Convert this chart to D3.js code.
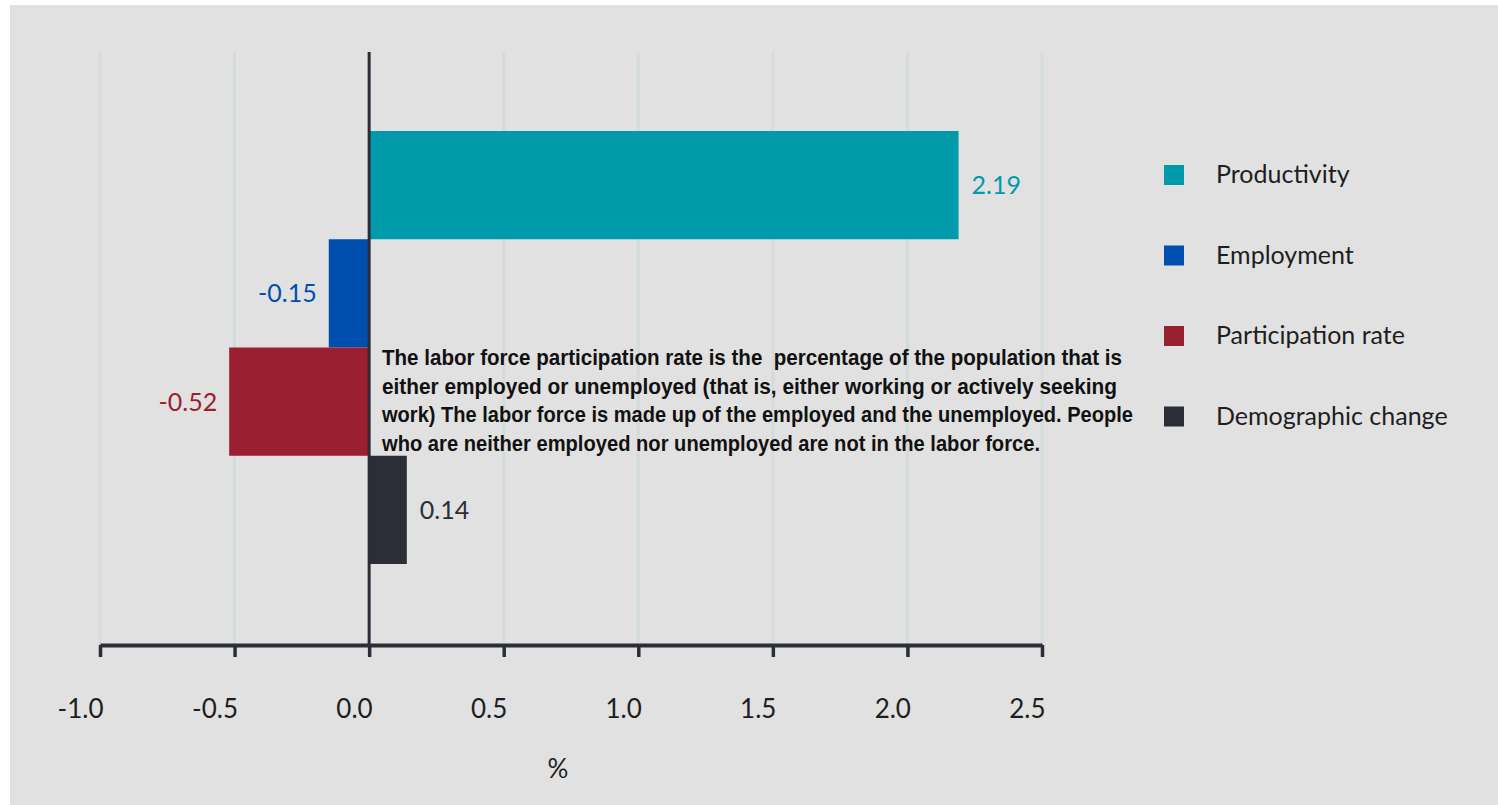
<!DOCTYPE html>
<html>
<head>
<meta charset="utf-8">
<script src="https://cdn.jsdelivr.net/npm/d3@7"></script>
<style>
  html, body { margin: 0; padding: 0; background: #ffffff; }
  svg { display: block; }
</style>
</head>
<body>
<div class="chart"></div>
<script>
// contributions to growth, in %
var categories = ["Productivity", "Employment", "Participation rate", "Demographic change"];
var values = [2.19, -0.15, -0.52, 0.14];
var valueLabels = ["2.19", "-0.15", "-0.52", "0.14"];
var colors = ["#009aab", "#004fae", "#9a1f30", "#2b2e36"];
var tickValues = [-1.0, -0.5, 0.0, 0.5, 1.0, 1.5, 2.0, 2.5];
var noteLines = [
  "The labor force participation rate is the  percentage of the population that is",
  "either employed or unemployed (that is, either working or actively seeking",
  "work) The labor force is made up of the employed and the unemployed. People",
  "who are neither employed nor unemployed are not in the labor force."
];
var noteWidths = [740, 735, 751, 658];

var width = 1498,
    height = 805;

var dark = "#2b2e36",
    gridColor = "#d4dbdb",
    font = "Lato, 'Open Sans', sans-serif";

var svg = d3.select(".chart").append("svg")
    .attr("width", width)
    .attr("height", height);

svg.append("rect")
    .attr("x", 10).attr("y", 5)
    .attr("width", width - 10).attr("height", height - 5)
    .attr("fill", "#e1e1e1");

var xScale = d3.scaleLinear().domain([-1, 2.5]).range([100, 1042]);
var yScale = d3.scaleBand().domain(categories).range([131, 564]).padding(0);

var axisY = 645,
    gridTop = 52;

// gridlines
svg.selectAll(".grid")
    .data(tickValues.filter(function(d) { return d !== 0; }))
    .enter()
    .append("line")
    .attr("class", "grid")
    .attr("x1", function(d) { return xScale(d); })
    .attr("x2", function(d) { return xScale(d); })
    .attr("y1", gridTop)
    .attr("y2", axisY)
    .attr("stroke", gridColor)
    .attr("stroke-width", 3);

// bars
var rows = categories.map(function(c, i) {
  return { name: c, value: values[i], label: valueLabels[i], color: colors[i] };
});

svg.selectAll(".bar")
    .data(rows)
    .enter()
    .append("rect")
    .attr("class", "bar")
    .attr("x", function(d) { return xScale(Math.min(0, d.value)); })
    .attr("y", function(d) { return yScale(d.name); })
    .attr("width", function(d) { return Math.abs(xScale(d.value) - xScale(0)); })
    .attr("height", yScale.bandwidth())
    .attr("fill", function(d) { return d.color; });

svg.selectAll(".value-label")
    .data(rows)
    .enter()
    .append("text")
    .attr("class", "value-label")
    .attr("x", function(d) { return d.value >= 0 ? xScale(d.value) + 13 : xScale(d.value) - 12; })
    .attr("y", function(d) { return yScale(d.name) + yScale.bandwidth() / 2 + 9; })
    .attr("text-anchor", function(d) { return d.value >= 0 ? "start" : "end"; })
    .style("font-family", font)
    .style("font-size", "25px")
    .attr("fill", function(d) { return d.color; })
    .text(function(d) { return d.label; });

// zero line
svg.append("line")
    .attr("x1", xScale(0)).attr("x2", xScale(0))
    .attr("y1", gridTop).attr("y2", axisY)
    .attr("stroke", dark)
    .attr("stroke-width", 3);

// x axis
var xaxis = d3.axisBottom(xScale)
    .tickValues(tickValues)
    .tickSize(12)
    .tickSizeOuter(0)
    .tickFormat(d3.format(".1f"));

var gx = svg.append("g")
    .attr("transform", "translate(0," + axisY + ")")
    .call(xaxis);

gx.select(".domain")
    .attr("stroke", dark)
    .attr("stroke-width", 4);
gx.selectAll(".tick line")
    .attr("stroke", dark)
    .attr("stroke-width", 3.5);
gx.selectAll(".tick text")
    .attr("y", 73)
    .attr("dy", 0)
    .attr("x", 3)
    .attr("text-anchor", "end")
    .attr("fill", "#1e1e1e")
    .style("font-family", font)
    .style("font-size", "26px")
    .text(function(d) { return d3.format(".1f")(d).replace("−", "-"); });

svg.append("text")
    .attr("x", 558)
    .attr("y", 778)
    .attr("text-anchor", "middle")
    .attr("fill", "#1e1e1e")
    .style("font-family", font)
    .style("font-size", "26px")
    .text("%");

// annotation
svg.selectAll(".note")
    .data(noteLines)
    .enter()
    .append("text")
    .attr("class", "note")
    .attr("x", 382)
    .attr("y", function(d, i) { return 365 + i * 28.5; })
    .attr("textLength", function(d, i) { return noteWidths[i]; })
    .attr("lengthAdjust", "spacingAndGlyphs")
    .attr("fill", "#111")
    .style("white-space", "pre")
    .style("font-family", "'Liberation Sans', Arial, sans-serif")
    .style("font-weight", "bold")
    .style("font-size", "22px")
    .text(function(d) { return d; });

// legend
var legend = svg.selectAll(".legend")
    .data(rows)
    .enter()
    .append("g")
    .attr("class", "legend")
    .attr("transform", function(d, i) { return "translate(1164," + (165 + i * 80.5) + ")"; });

legend.append("rect")
    .attr("width", 20)
    .attr("height", 20)
    .attr("fill", function(d) { return d.color; });

legend.append("text")
    .attr("x", 52)
    .attr("y", 18)
    .attr("fill", "#1e1e1e")
    .style("font-family", font)
    .style("font-size", "25px")
    .text(function(d) { return d.name; });
</script>
</body>
</html>
